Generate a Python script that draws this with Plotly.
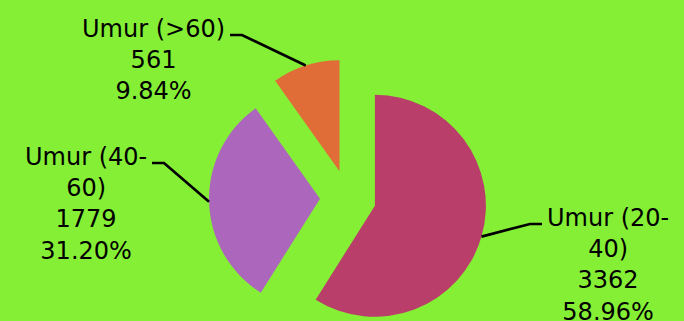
import math
import plotly.graph_objects as go

# Age groups and respondent counts
categories = ["Umur (20-40)", "Umur (40-60)", "Umur (>60)"]
counts = [3362, 1779, 561]
colors = ["#B93E6A", "#AC67BD", "#E06C38"]

# Canvas and pie geometry (pixels)
W, H = 684, 321
BG = "#85EF35"
CENTER = (348, 198)      # centre of the un-exploded pie
RADIUS = 111
PULL = 28                # distance each slice is pushed out
# Elbow of each leader line, and the side the label sits on
knees = [(530, 224), (164, 163), (242, 35)]
sides = [1, -1, -1]
TAIL = 12
FONT = dict(family="DejaVu Sans", size=24, color="#000000")


def px_x(x):
    return x / W


def px_y(y):
    return 1 - y / H


def wrap(name, width=10):
    if len(name) > width and "-" in name:
        head, tail = name.split("-", 1)
        return head + "-<br>" + tail
    return name


total = sum(counts)
fig = go.Figure()
shapes, annotations = [], []
start = 0.0
for i, (cat, val) in enumerate(zip(categories, counts)):
    span = 360.0 * val / total
    mid = math.radians(start + span / 2)
    start += span
    dx, dy = math.sin(mid), -math.cos(mid)
    vx, vy = CENTER[0] + PULL * dx, CENTER[1] + PULL * dy

    # one pie per slice so each can be shifted on its own
    slice_colors = ["rgba(0,0,0,0)"] * len(counts)
    slice_colors[i] = colors[i]
    fig.add_trace(go.Pie(
        labels=categories, values=counts, sort=False,
        direction="clockwise", rotation=0,
        marker=dict(colors=slice_colors, line=dict(width=0)),
        textinfo="none", showlegend=False, hoverinfo="skip",
        domain=dict(x=[px_x(vx - RADIUS), px_x(vx + RADIUS)],
                    y=[px_y(vy + RADIUS), px_y(vy - RADIUS)]),
    ))

    # leader line: slice edge -> elbow -> short horizontal tail
    ex, ey = vx + RADIUS * dx, vy + RADIUS * dy
    kx, ky = knees[i]
    tx = kx + sides[i] * TAIL
    path = "M {} {} L {} {} L {} {}".format(
        px_x(ex), px_y(ey), px_x(kx), px_y(ky), px_x(tx), px_y(ky))
    shapes.append(dict(type="path", xref="paper", yref="paper", path=path,
                       line=dict(color="#000000", width=2.7)))

    pct = 100.0 * val / total
    text = "{}<br>{}<br>{:.2f}%".format(wrap(cat), val, pct)
    annotations.append(dict(
        x=px_x(tx + sides[i] * 3), y=px_y(ky - 22), xref="paper", yref="paper",
        xanchor="left" if sides[i] > 0 else "right", yanchor="top",
        text=text, showarrow=False, align="center", font=FONT,
    ))

fig.update_layout(
    width=W, height=H,
    margin=dict(l=0, r=0, t=0, b=0),
    paper_bgcolor=BG, plot_bgcolor=BG,
    shapes=shapes, annotations=annotations,
)

fig.write_html("out.html")
